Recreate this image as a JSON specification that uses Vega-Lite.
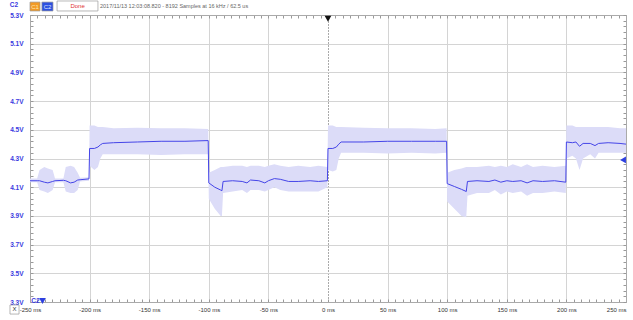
{
  "$schema": "https://vega.github.io/schema/vega-lite/v6.json",
  "width": 596,
  "height": 287,
  "autosize": "none",
  "padding": {"left": 30, "top": 15, "right": 7, "bottom": 18},
  "background": "white",
  "config": {"view": {"stroke": null}, "font": "Liberation Sans"},
  "datasets": {
    "trace": [
      {"t": -250, "v": 4.145, "lo": 4.135, "hi": 4.16},
      {"t": -244, "v": 4.145, "lo": 4.135, "hi": 4.16},
      {"t": -242, "v": 4.145, "lo": 4.08, "hi": 4.22},
      {"t": -238, "v": 4.135, "lo": 4.07, "hi": 4.24},
      {"t": -235, "v": 4.13, "lo": 4.06, "hi": 4.23},
      {"t": -231, "v": 4.14, "lo": 4.08, "hi": 4.22},
      {"t": -229, "v": 4.145, "lo": 4.135, "hi": 4.16},
      {"t": -222, "v": 4.148, "lo": 4.135, "hi": 4.16},
      {"t": -220, "v": 4.145, "lo": 4.07, "hi": 4.24},
      {"t": -216, "v": 4.13, "lo": 4.06, "hi": 4.25},
      {"t": -213, "v": 4.135, "lo": 4.06, "hi": 4.24},
      {"t": -210, "v": 4.15, "lo": 4.08, "hi": 4.2},
      {"t": -208, "v": 4.152, "lo": 4.14, "hi": 4.165},
      {"t": -200.5, "v": 4.158, "lo": 4.145, "hi": 4.17},
      {"t": -200, "v": 4.37, "lo": 4.25, "hi": 4.53},
      {"t": -196, "v": 4.37, "lo": 4.22, "hi": 4.53},
      {"t": -193, "v": 4.38, "lo": 4.24, "hi": 4.52},
      {"t": -191, "v": 4.395, "lo": 4.3, "hi": 4.52},
      {"t": -189, "v": 4.405, "lo": 4.33, "hi": 4.52},
      {"t": -180, "v": 4.41, "lo": 4.33, "hi": 4.51},
      {"t": -160, "v": 4.415, "lo": 4.33, "hi": 4.515},
      {"t": -140, "v": 4.42, "lo": 4.325, "hi": 4.51},
      {"t": -120, "v": 4.42, "lo": 4.33, "hi": 4.51},
      {"t": -100.5, "v": 4.425, "lo": 4.33, "hi": 4.505},
      {"t": -100, "v": 4.13, "lo": 4.02, "hi": 4.2},
      {"t": -95, "v": 4.1, "lo": 3.95, "hi": 4.22},
      {"t": -90, "v": 4.08, "lo": 3.9, "hi": 4.24},
      {"t": -89, "v": 4.075, "lo": 3.9, "hi": 4.24},
      {"t": -88, "v": 4.14, "lo": 4.06, "hi": 4.24},
      {"t": -80, "v": 4.145, "lo": 4.07, "hi": 4.25},
      {"t": -72, "v": 4.14, "lo": 4.08, "hi": 4.25},
      {"t": -68, "v": 4.13, "lo": 4.06, "hi": 4.24},
      {"t": -65, "v": 4.15, "lo": 4.08, "hi": 4.25},
      {"t": -58, "v": 4.145, "lo": 4.08, "hi": 4.25},
      {"t": -53, "v": 4.13, "lo": 4.07, "hi": 4.24},
      {"t": -50, "v": 4.145, "lo": 4.08, "hi": 4.25},
      {"t": -45, "v": 4.16, "lo": 4.1, "hi": 4.26},
      {"t": -40, "v": 4.155, "lo": 4.08, "hi": 4.25},
      {"t": -33, "v": 4.14, "lo": 4.07, "hi": 4.24},
      {"t": -25, "v": 4.14, "lo": 4.07, "hi": 4.25},
      {"t": -15, "v": 4.145, "lo": 4.07, "hi": 4.24},
      {"t": -8, "v": 4.14, "lo": 4.07, "hi": 4.25},
      {"t": -0.5, "v": 4.145, "lo": 4.1, "hi": 4.24},
      {"t": 0, "v": 4.37, "lo": 4.22, "hi": 4.53},
      {"t": 4, "v": 4.37, "lo": 4.21, "hi": 4.53},
      {"t": 7, "v": 4.38, "lo": 4.22, "hi": 4.52},
      {"t": 9, "v": 4.4, "lo": 4.3, "hi": 4.52},
      {"t": 11, "v": 4.415, "lo": 4.34, "hi": 4.52},
      {"t": 30, "v": 4.415, "lo": 4.34, "hi": 4.515},
      {"t": 50, "v": 4.42, "lo": 4.335, "hi": 4.51},
      {"t": 70, "v": 4.42, "lo": 4.34, "hi": 4.51},
      {"t": 90, "v": 4.42, "lo": 4.335, "hi": 4.505},
      {"t": 99.5, "v": 4.42, "lo": 4.34, "hi": 4.51},
      {"t": 100, "v": 4.125, "lo": 4.0, "hi": 4.2},
      {"t": 106, "v": 4.105, "lo": 3.95, "hi": 4.22},
      {"t": 112, "v": 4.085, "lo": 3.9, "hi": 4.23},
      {"t": 116, "v": 4.07, "lo": 3.89, "hi": 4.24},
      {"t": 117, "v": 4.14, "lo": 4.04, "hi": 4.24},
      {"t": 125, "v": 4.145, "lo": 4.06, "hi": 4.24},
      {"t": 135, "v": 4.14, "lo": 4.06, "hi": 4.25},
      {"t": 140, "v": 4.15, "lo": 4.08, "hi": 4.24},
      {"t": 145, "v": 4.135, "lo": 4.05, "hi": 4.25},
      {"t": 150, "v": 4.145, "lo": 4.07, "hi": 4.24},
      {"t": 155, "v": 4.14, "lo": 4.06, "hi": 4.26},
      {"t": 162, "v": 4.145, "lo": 4.07, "hi": 4.24},
      {"t": 167, "v": 4.13, "lo": 4.04, "hi": 4.26},
      {"t": 172, "v": 4.145, "lo": 4.06, "hi": 4.24},
      {"t": 180, "v": 4.14, "lo": 4.06, "hi": 4.25},
      {"t": 190, "v": 4.145, "lo": 4.07, "hi": 4.24},
      {"t": 199.5, "v": 4.135, "lo": 4.06, "hi": 4.25},
      {"t": 200, "v": 4.415, "lo": 4.3, "hi": 4.53},
      {"t": 205, "v": 4.41, "lo": 4.32, "hi": 4.53},
      {"t": 208, "v": 4.415, "lo": 4.3, "hi": 4.52},
      {"t": 211, "v": 4.385, "lo": 4.22, "hi": 4.52},
      {"t": 214, "v": 4.405, "lo": 4.3, "hi": 4.52},
      {"t": 220, "v": 4.405, "lo": 4.33, "hi": 4.52},
      {"t": 224, "v": 4.39, "lo": 4.3, "hi": 4.52},
      {"t": 227, "v": 4.405, "lo": 4.34, "hi": 4.52},
      {"t": 235, "v": 4.41, "lo": 4.34, "hi": 4.52},
      {"t": 245, "v": 4.405, "lo": 4.34, "hi": 4.51},
      {"t": 250, "v": 4.4, "lo": 4.34, "hi": 4.51}
    ]
  },
  "layer": [
    {
      "data": {"name": "trace"},
      "mark": {"type": "area", "fill": "#dcdcf8", "opacity": 1, "interpolate": "linear"},
      "encoding": {
        "x": {
          "field": "t", "type": "quantitative",
          "scale": {"domain": [-250, 250], "nice": false, "zero": false},
          "axis": {
            "orient": "bottom", "title": null,
            "values": [-250,-243.75,-237.5,-231.25,-225,-218.75,-212.5,-206.25,-200,-193.75,-187.5,-181.25,-175,-168.75,-162.5,-156.25,-150,-143.75,-137.5,-131.25,-125,-118.75,-112.5,-106.25,-100,-93.75,-87.5,-81.25,-75,-68.75,-62.5,-56.25,-50,-43.75,-37.5,-31.25,-25,-18.75,-12.5,-6.25,0,6.25,12.5,18.75,25,31.25,37.5,43.75,50,56.25,62.5,68.75,75,81.25,87.5,93.75,100,106.25,112.5,118.75,125,131.25,137.5,143.75,150,156.25,162.5,168.75,175,181.25,187.5,193.75,200,206.25,212.5,218.75,225,231.25,237.5,243.75,250],
            "labelExpr": "datum.value % 50 === 0 ? datum.value + ' ms' : ''",
            "labelOverlap": false, "labelBound": false, "labelFlush": false,
            "labelAlign": {"condition": {"test": "datum.value === 250", "value": "right"}, "value": "center"},
            "labelFontSize": 6, "labelColor": "#333333", "labelPadding": 7,
            "grid": true,
            "gridOpacity": {"condition": {"test": "datum.value % 50 === 0", "value": 1}, "value": 0},
            "gridColor": {"condition": {"test": "datum.value === 0", "value": "#555555"}, "value": "#d4d4d4"},
            "gridDash": {"condition": {"test": "datum.value === 0", "value": [1, 2]}, "value": []},
            "tickSize": -3, "tickColor": "#999999", "domainColor": "#aaaaaa"
          }
        },
        "y": {
          "field": "lo", "type": "quantitative",
          "scale": {"domain": [3.3, 5.3], "nice": false, "zero": false},
          "axis": {
            "orient": "left", "title": null,
            "values": [3.3,3.34,3.38,3.42,3.46,3.5,3.54,3.58,3.62,3.66,3.7,3.74,3.78,3.82,3.86,3.9,3.94,3.98,4.02,4.06,4.1,4.14,4.18,4.22,4.26,4.3,4.34,4.38,4.42,4.46,4.5,4.54,4.58,4.62,4.66,4.7,4.74,4.78,4.82,4.86,4.9,4.94,4.98,5.02,5.06,5.1,5.14,5.18,5.22,5.26,5.3],
            "labelExpr": "abs(round(datum.value*100) % 20) == 10 ? format(datum.value, '.1f') + 'V' : ''",
            "labelOverlap": false, "labelBound": false, "labelFlush": false,
            "labelFontSize": 6.5, "labelFontWeight": "bold", "labelColor": "#3a3ae0", "labelPadding": 10,
            "grid": true,
            "gridOpacity": {"condition": {"test": "abs(round(datum.value*100) % 20) == 10", "value": 1}, "value": 0},
            "gridColor": "#d4d4d4",
            "tickSize": -3, "tickColor": "#999999", "domainColor": "#aaaaaa"
          }
        },
        "y2": {"field": "hi"}
      }
    },
    {
      "data": {"name": "trace"},
      "mark": {"type": "line", "color": "#4545e8", "strokeWidth": 1, "interpolate": "linear"},
      "encoding": {
        "x": {
          "field": "t", "type": "quantitative",
          "scale": {"domain": [-250, 250], "nice": false, "zero": false},
          "axis": {
            "orient": "top", "title": null, "labels": false, "grid": false,
            "values": [-250,-243.75,-237.5,-231.25,-225,-218.75,-212.5,-206.25,-200,-193.75,-187.5,-181.25,-175,-168.75,-162.5,-156.25,-150,-143.75,-137.5,-131.25,-125,-118.75,-112.5,-106.25,-100,-93.75,-87.5,-81.25,-75,-68.75,-62.5,-56.25,-50,-43.75,-37.5,-31.25,-25,-18.75,-12.5,-6.25,0,6.25,12.5,18.75,25,31.25,37.5,43.75,50,56.25,62.5,68.75,75,81.25,87.5,93.75,100,106.25,112.5,118.75,125,131.25,137.5,143.75,150,156.25,162.5,168.75,175,181.25,187.5,193.75,200,206.25,212.5,218.75,225,231.25,237.5,243.75,250],
            "tickSize": -3, "tickColor": "#999999", "domainColor": "#aaaaaa"
          }
        },
        "y": {
          "field": "v", "type": "quantitative",
          "scale": {"domain": [3.3, 5.3], "nice": false, "zero": false},
          "axis": {
            "orient": "right", "title": null, "labels": false, "grid": false,
            "values": [3.3,3.34,3.38,3.42,3.46,3.5,3.54,3.58,3.62,3.66,3.7,3.74,3.78,3.82,3.86,3.9,3.94,3.98,4.02,4.06,4.1,4.14,4.18,4.22,4.26,4.3,4.34,4.38,4.42,4.46,4.5,4.54,4.58,4.62,4.66,4.7,4.74,4.78,4.82,4.86,4.9,4.94,4.98,5.02,5.06,5.1,5.14,5.18,5.22,5.26,5.3],
            "tickSize": -3, "tickColor": "#999999", "domainColor": "#aaaaaa"
          }
        }
      }
    },
    {
      "data": {"values": [
        {"box": "C1", "t1": -250, "t2": -241.6, "v1": 5.39, "v2": 5.328},
        {"box": "C2", "t1": -240, "t2": -230.7, "v1": 5.39, "v2": 5.328},
        {"box": "Done", "t1": -227.3, "t2": -193, "v1": 5.3976, "v2": 5.328},
        {"box": "X", "t1": -266.8, "t2": -259.2, "v1": 3.279, "v2": 3.216}
      ]},
      "mark": {"type": "rect", "stroke": "#9a9a9a", "strokeWidth": 0.7},
      "encoding": {
        "x": {"field": "t1", "type": "quantitative", "scale": {"domain": [-250, 250], "nice": false, "zero": false}, "axis": null},
        "x2": {"field": "t2"},
        "y": {"field": "v1", "type": "quantitative", "scale": {"domain": [3.3, 5.3], "nice": false, "zero": false}, "axis": null},
        "y2": {"field": "v2"},
        "fill": {"field": "box", "type": "nominal", "scale": {"domain": ["C1", "C2", "Done", "X"], "range": ["#f29a26", "#2d50e0", "#ffffff", "#ffffff"]}, "legend": null}
      }
    },
    {
      "data": {"values": [
        {"label": "C1", "t": -245.8, "v": 5.359},
        {"label": "C2", "t": -235.35, "v": 5.359},
        {"label": "Done", "t": -210.1, "v": 5.362},
        {"label": "X", "t": -263, "v": 3.248}
      ]},
      "mark": {"type": "text", "fontSize": 6, "align": "center", "baseline": "middle"},
      "encoding": {
        "x": {"field": "t", "type": "quantitative", "scale": {"domain": [-250, 250], "nice": false, "zero": false}, "axis": null},
        "y": {"field": "v", "type": "quantitative", "scale": {"domain": [3.3, 5.3], "nice": false, "zero": false}, "axis": null},
        "text": {"field": "label"},
        "color": {"field": "label", "type": "nominal", "scale": {"domain": ["C1", "C2", "Done", "X"], "range": ["#fde7b0", "#dfe6ff", "#e03030", "#333333"]}, "legend": null}
      }
    },
    {
      "data": {"values": [
        {"label": "C2", "t": -263.4, "v": 5.37},
        {"label": "C2", "t": -245.5, "v": 3.307}
      ]},
      "mark": {"type": "text", "fontSize": 6.5, "fontWeight": "bold", "color": "#3a3ae0", "align": "center", "baseline": "middle"},
      "encoding": {
        "x": {"field": "t", "type": "quantitative", "scale": {"domain": [-250, 250], "nice": false, "zero": false}, "axis": null},
        "y": {"field": "v", "type": "quantitative", "scale": {"domain": [3.3, 5.3], "nice": false, "zero": false}, "axis": null},
        "text": {"field": "label"}
      }
    },
    {
      "data": {"values": [
        {"label": "2017/11/13 12:03:08.820 - 8192 Samples at 16 kHz / 62.5 us", "t": -191.3, "v": 5.363}
      ]},
      "mark": {"type": "text", "fontSize": 5.5, "color": "#666666", "align": "left", "baseline": "middle"},
      "encoding": {
        "x": {"field": "t", "type": "quantitative", "scale": {"domain": [-250, 250], "nice": false, "zero": false}, "axis": null},
        "y": {"field": "v", "type": "quantitative", "scale": {"domain": [3.3, 5.3], "nice": false, "zero": false}, "axis": null},
        "text": {"field": "label"}
      }
    },
    {
      "data": {"values": [
        {"t": 0, "v": 5.274, "marker": "trigger"},
        {"t": -239.5, "v": 3.307, "marker": "channel"}
      ]},
      "mark": {"type": "point", "shape": "triangle-down", "filled": true, "size": 45, "opacity": 1},
      "encoding": {
        "x": {"field": "t", "type": "quantitative", "scale": {"domain": [-250, 250], "nice": false, "zero": false}, "axis": null},
        "y": {"field": "v", "type": "quantitative", "scale": {"domain": [3.3, 5.3], "nice": false, "zero": false}, "axis": null},
        "color": {"field": "marker", "type": "nominal", "scale": {"domain": ["trigger", "channel"], "range": ["#111111", "#2d3fe0"]}, "legend": null}
      }
    },
    {
      "data": {"values": [{"t": 247.5, "v": 4.29}]},
      "mark": {"type": "point", "shape": "triangle-left", "filled": true, "size": 45, "color": "#2d3fe0", "opacity": 1},
      "encoding": {
        "x": {"field": "t", "type": "quantitative", "scale": {"domain": [-250, 250], "nice": false, "zero": false}, "axis": null},
        "y": {"field": "v", "type": "quantitative", "scale": {"domain": [3.3, 5.3], "nice": false, "zero": false}, "axis": null}
      }
    }
  ],
  "resolve": {"axis": {"x": "independent", "y": "independent"}, "scale": {"color": "independent"}}
}
